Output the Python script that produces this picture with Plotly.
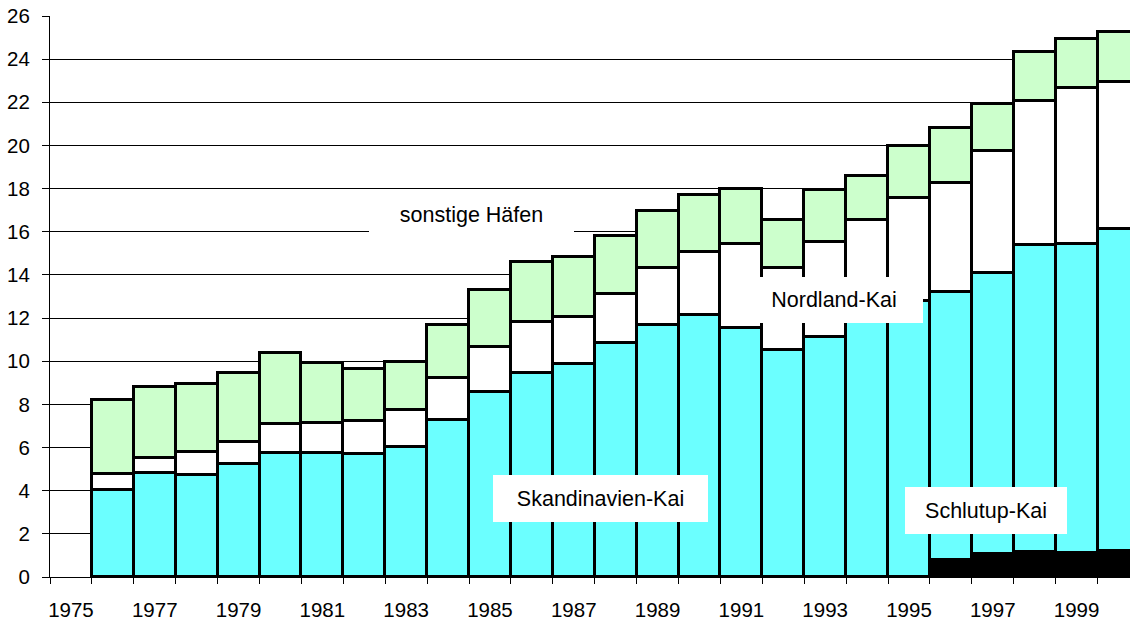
import plotly.graph_objects as go

# Jahre (1975 hat keinen Balken)
years = list(range(1976, 2001))

# Segmente in Mio. t, von unten nach oben gestapelt
schlutup = [None] * 20 + [0.79, 1.07, 1.16, 1.11, 1.20]
skandinavien = [4.05, 4.82, 4.73, 5.24, 5.76, 5.73, 5.68, 6.01, 7.29, 8.56,
                9.47, 9.86, 10.83, 11.68, 12.13, 11.56, 10.50, 11.14, 11.90, 12.80,
                12.43, 13.03, 14.22, 14.32, 14.91]
nordland = [0.71, 0.69, 1.05, 1.03, 1.33, 1.39, 1.56, 1.72, 1.92, 2.08,
            2.33, 2.20, 2.28, 2.64, 2.94, 3.87, 3.83, 4.38, 4.64, 4.78,
            5.05, 5.65, 6.69, 7.22, 6.84]
sonstige = [3.44, 3.29, 3.15, 3.20, 3.29, 2.81, 2.41, 2.23, 2.47, 2.66,
            2.81, 2.78, 2.69, 2.64, 2.63, 2.53, 2.23, 2.40, 2.03, 2.41,
            2.55, 2.18, 2.27, 2.27, 2.29]

tick_years = list(range(1975, 2000, 2))

FONT = "Arial, Liberation Sans, sans-serif"

fig = go.Figure()

series = [
    ("Schlutup-Kai", schlutup, "#000000"),
    ("Skandinavien-Kai", skandinavien, "#6BFFFF"),
    ("Nordland-Kai", nordland, "#FFFFFF"),
    ("sonstige Häfen", sonstige, "#CCFFCC"),
]
for name, vals, color in series:
    fig.add_trace(go.Bar(
        x=years,
        y=vals,
        name=name,
        width=1,
        marker=dict(color=color, line=dict(color="#000000", width=2.8)),
    ))

# Beschriftungsfelder (weiße Kästen)
labels = [
    ("sonstige Häfen", 1984.57, 16.77, 205, 48),
    ("Nordland-Kai", 1993.21, 12.84, 178, 46),
    ("Skandinavien-Kai", 1987.64, 3.64, 215, 47),
    ("Schlutup-Kai", 1996.84, 3.08, 162, 47),
]
for text, lx, ly, w, h in labels:
    fig.add_annotation(
        x=lx, y=ly, xref="x", yref="y",
        text=text, showarrow=False,
        width=w, height=h, borderpad=0, borderwidth=0,
        bgcolor="#FFFFFF", align="center", valign="middle",
        font=dict(family=FONT, size=21.5, color="#000000"),
    )

fig.update_layout(
    width=1130,
    height=620,
    barmode="stack",
    bargap=0,
    showlegend=False,
    plot_bgcolor="#FFFFFF",
    paper_bgcolor="#FFFFFF",
    margin=dict(l=50, r=0, t=16, b=43),
    font=dict(family=FONT, size=20.5, color="#000000"),
)

fig.update_xaxes(
    range=[1974.5, 2000.275],
    automargin=False,
    tickmode="array",
    tickvals=tick_years,
    ticktext=[str(y) for y in tick_years],
    ticks="",
    ticklabelstandoff=14,
    showgrid=False,
    showline=True,
    linecolor="#000000",
    linewidth=1,
    minor=dict(tick0=1974.5, dtick=1, ticks="outside", ticklen=6,
               tickcolor="#000000", tickwidth=1, showgrid=False),
    tickfont=dict(family=FONT, size=20.5, color="#000000"),
)

fig.update_yaxes(
    range=[0, 26],
    automargin=False,
    dtick=2,
    ticks="outside",
    ticklen=7,
    tickcolor="#000000",
    ticklabelstandoff=8,
    showgrid=True,
    gridcolor="#000000",
    gridwidth=1,
    zeroline=False,
    showline=True,
    linecolor="#000000",
    linewidth=1,
    tickfont=dict(family=FONT, size=20.5, color="#000000"),
)

# Seitenrand des Browsers entfernen, damit die Grafik bei (0, 0) beginnt
fig.write_html(
    "out.html",
    config={"displayModeBar": False},
    post_script="document.body.style.margin='0';document.body.style.overflow='hidden';",
)
